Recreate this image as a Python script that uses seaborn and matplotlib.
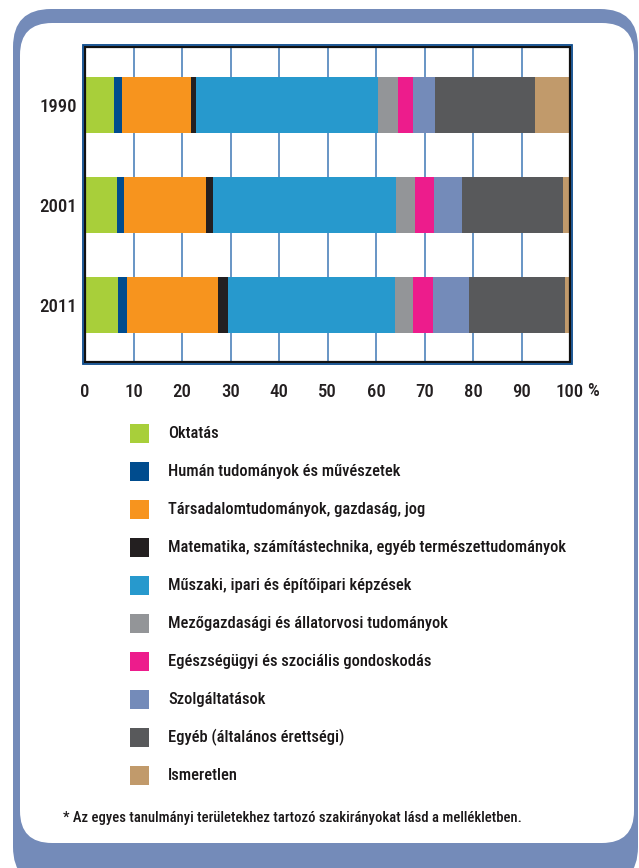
import numpy as np
import pandas as pd
import seaborn as sns
import matplotlib
matplotlib.use("Agg")
import matplotlib.pyplot as plt
from matplotlib.patches import FancyBboxPatch, Rectangle
from matplotlib import font_manager

years = ["1990", "2001", "2011"]
categories = [
    "Oktatás",
    "Humán tudományok és művészetek",
    "Társadalomtudományok, gazdaság, jog",
    "Matematika, számítástechnika, egyéb természettudományok",
    "Műszaki, ipari és építőipari képzések",
    "Mezőgazdasági és állatorvosi tudományok",
    "Egészségügyi és szociális gondoskodás",
    "Szolgáltatások",
    "Egyéb (általános érettségi)",
    "Ismeretlen",
]
colors = ["#A8CF3A", "#004C8E", "#F7941E", "#231F20", "#2799CD",
          "#939598", "#ED1C8C", "#748BB9", "#58595B", "#C19A6B"]
v1990 = [5.9, 1.7, 14.3, 1.0, 37.6, 4.1, 3.1, 4.5, 20.6, 7.2]
v2001 = [6.6, 1.4, 16.9, 1.5, 37.8, 3.9, 3.8, 5.9, 20.8, 1.4]
v2011 = [6.75, 2.0, 18.6, 2.2, 34.4, 3.7, 4.2, 7.4, 19.7, 1.05]
xticks = [0, 10, 20, 30, 40, 50, 60, 70, 80, 90, 100]
footnote = "* Az egyes tanulmányi területekhez tartozó szakirányokat lásd a mellékletben."

sns.set_theme(style="white")
names = {f.name for f in font_manager.fontManager.ttflist}
font = "DejaVu Sans"
for cand in ["Roboto Condensed", "Liberation Sans Narrow", "DejaVu Sans Condensed", "Open Sans Condensed"]:
    if cand in names:
        font = cand
        break
plt.rcParams["font.family"] = [font, "DejaVu Sans"]
plt.rcParams["font.weight"] = "medium"

W, H = 639, 868
fig = plt.figure(figsize=(W / 100, H / 100), dpi=100)
fig.patch.set_facecolor("white")

def px_box(x0, y0, x1, y1, r, color, z):
    p = FancyBboxPatch(((x0) / 100, (H - y1) / 100), (x1 - x0) / 100, (y1 - y0) / 100,
                       boxstyle=f"round,pad=0,rounding_size={r/100}",
                       transform=fig.dpi_scale_trans, facecolor=color, edgecolor="none", zorder=z)
    fig.patches.append(p)

px_box(13, 9, 638, 885, 38, "#748BB9", 0)
px_box(20, 23, 634, 843, 32, "white", 1)

ax = fig.add_axes([85 / W, (H - 362) / H, (570 - 85) / W, (362 - 47) / H])
ax.set_zorder(3)

df = pd.DataFrame({"year": years})
vals = np.array([v1990, v2001, v2011])
cum = np.cumsum(vals, axis=1)
for k in range(len(categories) - 1, -1, -1):
    df["cum"] = cum[:, k]
    sns.barplot(data=df, x="cum", y="year", orient="h", color=colors[k],
                width=0.56, saturation=1, ax=ax, zorder=3, linewidth=0)

ax.set_xlim(0, 100)
ax.set_ylim(2.575, -0.58)
ax.set_xlabel("")
ax.set_ylabel("")
ax.set_xticks(xticks)
ax.set_xticklabels([str(t) for t in xticks])
for t in xticks[1:-1]:
    ax.axvline(t, color="#3F78B5", lw=1.1, zorder=1)
ax.tick_params(axis="x", direction="out", length=8, width=2.4, color="#0B4A8B",
               pad=7, labelsize=13.5, labelcolor="#231F20")
ax.tick_params(axis="y", length=0, pad=6, labelsize=13.5, labelcolor="#231F20")
for s in ax.spines.values():
    s.set_color("#111111")
    s.set_linewidth(1.6)
    s.set_zorder(5)
outer = Rectangle((-0.004, -0.006), 1.008, 1.012, transform=ax.transAxes, fill=False,
                  edgecolor="#0B4A8B", lw=1.3, clip_on=False, zorder=6)
ax.add_patch(outer)

fig.text(593 / W, 1 - 391 / H, "%", fontsize=13.5, color="#231F20", ha="center", va="center", zorder=4)

for i, (cat, c) in enumerate(zip(categories, colors)):
    yc = 433.5 + 38 * i
    fig.patches.append(Rectangle((130 / 100, (H - yc - 9.5) / 100), 19 / 100, 19 / 100,
                                 transform=fig.dpi_scale_trans, facecolor=c, edgecolor="none", zorder=4))
    fig.text(168 / W, 1 - yc / H, cat, fontsize=11.9, color="#1A1718", ha="left", va="center", zorder=4)

fig.text(63 / W, 1 - 818 / H, footnote, fontsize=10.55, color="#1A1718", ha="left", va="center", zorder=4)

fig.savefig("out.png", dpi=100)
